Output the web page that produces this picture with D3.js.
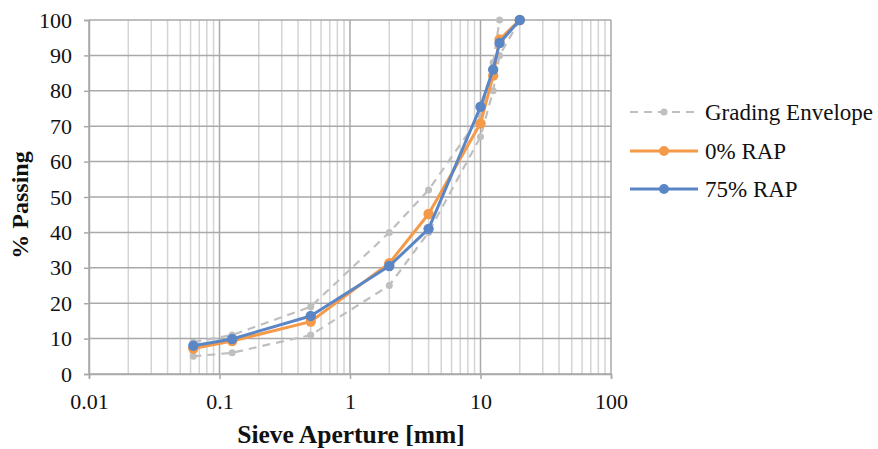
<!DOCTYPE html>
<html>
<head>
<meta charset="utf-8">
<script src="https://cdn.jsdelivr.net/npm/d3@7/dist/d3.min.js"></script>
</head>
<body style="margin:0;background:#fff">
<svg id="chart" width="878" height="449"></svg>
<script>
// ---- data ----
const sieves = [0.063, 0.125, 0.5, 2, 4, 10, 12.5, 14, 20];
const rap0   = [7.2, 9.3, 14.8, 31.3, 45.2, 70.8, 84.3, 94.5, 100];
const rap75  = [8.0, 9.9, 16.4, 30.5, 41.0, 75.5, 86.0, 93.5, 100];
const envUpper = [9, 11, 19, 40, 52, 73, 88, 100, 100];
const envLower = [5, 6, 11, 25, 40, 67, 80, 90, 100];
const xTicks = [0.01, 0.1, 1, 10, 100];
const xTickLabels = ["0.01", "0.1", "1", "10", "100"];
const yTicks = [0, 10, 20, 30, 40, 50, 60, 70, 80, 90, 100];
const seriesNames = ["Grading Envelope", "0% RAP", "75% RAP"];

// ---- layout ----
const svg = d3.select("#chart");
const L = 89, R = 611, T = 20, B = 374;
const x = d3.scaleLog().domain([0.01, 100]).range([L, R]);
const y = d3.scaleLinear().domain([0, 100]).range([B, T]);

const cEnv = "#bfbfbf", cOrange = "#f59a48", cBlue = "#5a86c6";
const majorGrid = "#a9a9a9", minorGrid = "#d4d4d4";
const FONT = "Liberation Serif";

// minor vertical grid
const minors = [];
for (let d = 0.01; d < 100; d *= 10) {
  for (let k = 2; k <= 9; k++) minors.push(+(d * k).toPrecision(6));
}
svg.append("g").selectAll("line").data(minors).join("line")
  .attr("x1", d => x(d)).attr("x2", d => x(d))
  .attr("y1", T).attr("y2", B)
  .attr("stroke", minorGrid).attr("stroke-width", 1.5);

// major vertical grid
svg.append("g").selectAll("line").data(xTicks).join("line")
  .attr("x1", d => x(d)).attr("x2", d => x(d))
  .attr("y1", T).attr("y2", B)
  .attr("stroke", majorGrid).attr("stroke-width", 1.5);

// horizontal grid
svg.append("g").selectAll("line").data(yTicks).join("line")
  .attr("x1", L).attr("x2", R)
  .attr("y1", d => y(d)).attr("y2", d => y(d))
  .attr("stroke", majorGrid).attr("stroke-width", 1.5);

// axes
const yAxis = d3.axisLeft(y).tickValues(yTicks).tickSize(5).tickPadding(12).tickFormat(d3.format("d"));
const gy = svg.append("g").attr("transform", `translate(${L},0)`).call(yAxis)
  .attr("font-family", null).attr("font-size", null);
gy.select(".domain").attr("stroke", majorGrid).attr("stroke-width", 1.5);
gy.selectAll(".tick line").attr("stroke", majorGrid).attr("stroke-width", 1.5);
gy.selectAll(".tick text").style("font-family", FONT).style("font-size", "22px").attr("fill", "#111");

const xAxis = d3.axisBottom(x).tickValues(xTicks).tickSize(5).tickPadding(14)
  .tickFormat((d, i) => xTickLabels[i]);
const gx = svg.append("g").attr("transform", `translate(0,${B})`).call(xAxis)
  .attr("font-family", null).attr("font-size", null);
gx.select(".domain").attr("stroke", majorGrid).attr("stroke-width", 1.5);
gx.selectAll(".tick line").attr("stroke", majorGrid).attr("stroke-width", 1.5);
gx.selectAll(".tick text").style("font-family", FONT).style("font-size", "22px").attr("fill", "#111");

// axis titles
svg.append("text").attr("x", 351).attr("y", 443).attr("text-anchor", "middle")
  .style("font-family", FONT).style("font-size", "25.5px").style("font-weight", "bold").attr("fill", "#111")
  .text("Sieve Aperture [mm]");
svg.append("text").attr("transform", "translate(28,205) rotate(-90)")
  .attr("text-anchor", "middle").style("font-family", FONT).style("font-size", "24px")
  .style("font-weight", "bold").attr("fill", "#111")
  .text("% Passing");

// lines
const line = d3.line().x(d => x(d[0])).y(d => y(d[1]));
function drawSeries(vals, color, width, dash, r) {
  const pts = sieves.map((s, i) => [s, vals[i]]);
  const g = svg.append("g");
  g.append("path").datum(pts).attr("d", line).attr("fill", "none")
    .attr("stroke", color).attr("stroke-width", width)
    .attr("stroke-dasharray", dash).attr("stroke-linejoin", "round");
  g.selectAll("circle").data(pts).join("circle")
    .attr("cx", d => x(d[0])).attr("cy", d => y(d[1])).attr("r", r).attr("fill", color);
}
drawSeries(envUpper, cEnv, 2.2, "8,6", 3.5);
drawSeries(envLower, cEnv, 2.2, "8,6", 3.5);
drawSeries(rap0, cOrange, 3, null, 5.2);
drawSeries(rap75, cBlue, 3, null, 5.2);

// legend
const legend = [
  { name: seriesNames[0], color: cEnv, dash: "8,6", w: 2.2, r: 3.5, y: 112 },
  { name: seriesNames[1], color: cOrange, dash: null, w: 3, r: 5, y: 151 },
  { name: seriesNames[2], color: cBlue, dash: null, w: 3, r: 5, y: 189 }
];
const lg = svg.append("g").selectAll("g").data(legend).join("g");
lg.append("line").attr("x1", 630).attr("x2", 698).attr("y1", d => d.y).attr("y2", d => d.y)
  .attr("stroke", d => d.color).attr("stroke-width", d => d.w).attr("stroke-dasharray", d => d.dash);
lg.append("circle").attr("cx", 664).attr("cy", d => d.y).attr("r", d => d.r).attr("fill", d => d.color);
lg.append("text").attr("x", 705).attr("y", d => d.y + 7.5)
  .style("font-family", FONT).style("font-size", "23px").attr("fill", "#111")
  .text(d => d.name);
</script>
</body>
</html>
